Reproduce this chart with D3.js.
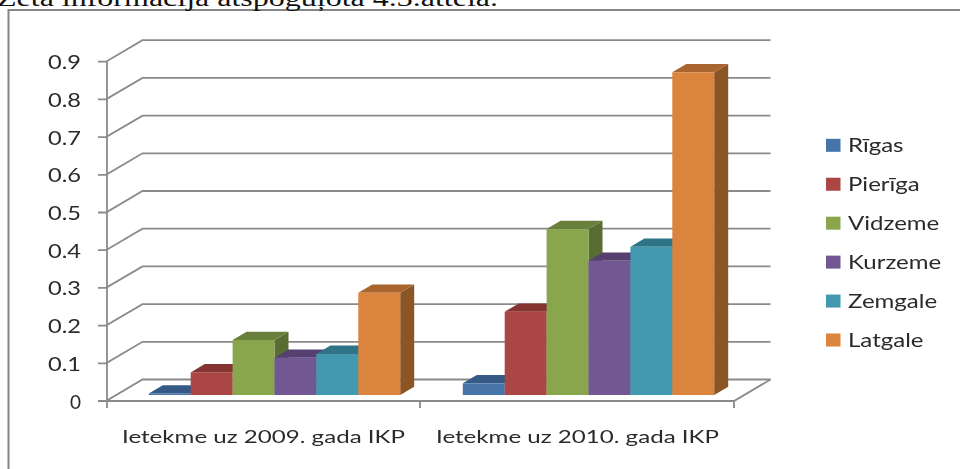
<!DOCTYPE html>
<html>
<head>
<meta charset="utf-8">
<script src="https://cdn.jsdelivr.net/npm/d3@7"></script>
<style>
  body { margin: 0; background: #fff; }
  svg { display: block; }
  text { font-family: Lato, "Open Sans", sans-serif; fill: #2b2b2b; }
</style>
</head>
<body>
<script>
const groups = ["Ietekme uz 2009. gada IKP", "Ietekme uz 2010. gada IKP"];
const regions = ["Rīgas", "Pierīga", "Vidzeme", "Kurzeme", "Zemgale", "Latgale"];
const values2009 = [0.004, 0.06, 0.146, 0.099, 0.109, 0.271];
const values2010 = [0.031, 0.221, 0.44, 0.356, 0.393, 0.856];
const yTicks = [0, 0.1, 0.2, 0.3, 0.4, 0.5, 0.6, 0.7, 0.8, 0.9];
const colors = ["#4674aa", "#aa4644", "#8aa64e", "#725893", "#4299b0", "#db843d"];
const topColors = ["#345a85", "#843531", "#68803a", "#573f6f", "#2f7386", "#a9652d"];
const sideColors = ["#2c4d73", "#6f2c29", "#586d31", "#49345e", "#276172", "#8c5527"];

const width = 960, height = 469;

const svg = d3.select("body").append("svg")
    .attr("width", width)
    .attr("height", height);

// image is a bit soft in the original
svg.append("filter").attr("id", "soft")
  .append("feGaussianBlur").attr("stdDeviation", 0.5);

const chart = svg.append("g").attr("filter", "url(#soft)");

// line of body text cut off above the chart frame
svg.append("text")
    .attr("x", -3).attr("y", 6)
    .attr("textLength", 501).attr("lengthAdjust", "spacingAndGlyphs")
    .style("font-family", "'Liberation Serif', serif")
    .style("font-size", "24px")
    .style("fill", "#111")
    .text("Zeta informācija atspoguļota 4.3.attēlā.");

// frame, runs off the picture right and bottom
chart.append("path")
    .attr("d", d3.line()([[8.5, height + 4], [8.5, 10], [width + 4, 10]]))
    .attr("fill", "none").attr("stroke", "#868686").attr("stroke-width", 2);

var x = d3.scaleBand().domain(groups).range([106, 734]);
var inner = d3.scaleBand().domain(regions)
    .range([0, x.bandwidth()])
    .paddingOuter(0.747);
var y = d3.scaleLinear().domain([0, 0.9]).range([401, 61.7]);

// 3d offsets: back wall of the chart, bar front plane, bar depth
const wall = { dx: 36.5, dy: -21.5 };
const front = { dx: 11.5, dy: -6 };
const depth = { dx: 14, dy: -8.3 };

const axisColor = "#8a8a8a";
const axisWidth = 1.8;

// gridlines on the wall and on the side
yTicks.forEach(function(t) {
  chart.append("path")
      .attr("d", d3.line()([
        [x.range()[0] - 8, y(t)],
        [x.range()[0], y(t)],
        [x.range()[0] + wall.dx, y(t) + wall.dy],
        [x.range()[1] + wall.dx, y(t) + wall.dy]
      ]))
      .attr("fill", "none").attr("stroke", axisColor).attr("stroke-width", axisWidth);
});

// axes
chart.append("path")
    .attr("d", d3.line()([[x.range()[0] + 1, y(0.9)], [x.range()[0] + 1, y(0) + 7]]))
    .attr("stroke", axisColor).attr("stroke-width", axisWidth);

chart.append("path")
    .attr("d", d3.line()([
      [x.range()[0], y(0)],
      [x.range()[1], y(0)],
      [x.range()[1] + wall.dx, y(0) + wall.dy]
    ]))
    .attr("fill", "none").attr("stroke", axisColor).attr("stroke-width", axisWidth);

chart.selectAll(".cat-tick")
    .data(groups)
    .enter().append("line")
    .attr("x1", function(d) { return x(d) + x.bandwidth(); })
    .attr("x2", function(d) { return x(d) + x.bandwidth(); })
    .attr("y1", y(0)).attr("y2", y(0) + 7)
    .attr("stroke", axisColor).attr("stroke-width", axisWidth);

// bars, drawn left to right so the next front face covers the side face
[values2009, values2010].forEach(function(vals, g) {
  vals.forEach(function(v, i) {
    var x0 = x(groups[g]) + inner(regions[i]) + front.dx;
    var x1 = x0 + inner.bandwidth();
    var yt = y(v) + front.dy;
    var yb = y(0) + front.dy;
    var bar = chart.append("g");
    bar.append("path") // side
        .attr("d", d3.line()([[x1, yt], [x1 + depth.dx, yt + depth.dy], [x1 + depth.dx, yb + depth.dy], [x1, yb]]) + "Z")
        .attr("fill", sideColors[i]);
    bar.append("path") // top
        .attr("d", d3.line()([[x0, yt], [x0 + depth.dx, yt + depth.dy], [x1 + depth.dx, yt + depth.dy], [x1, yt]]) + "Z")
        .attr("fill", topColors[i]);
    bar.append("rect") // front
        .attr("x", x0).attr("y", yt)
        .attr("width", x1 - x0).attr("height", yb - yt)
        .attr("fill", colors[i]);
  });
});

// labels
chart.selectAll(".y-label")
    .data(yTicks)
    .enter().append("text")
    .attr("x", 81).attr("y", function(d) { return y(d) + 7.5; })
    .attr("text-anchor", "end")
    .attr("textLength", function(d) { return d === 0 ? 11 : 33; })
    .attr("lengthAdjust", "spacingAndGlyphs")
    .style("font-size", "18.5px")
    .text(function(d) { return d; });

chart.selectAll(".x-label")
    .data(groups)
    .enter().append("text")
    .attr("x", function(d) { return x(d) + x.bandwidth() / 2 + 0.5; })
    .attr("y", 443)
    .attr("text-anchor", "middle")
    .attr("textLength", 283).attr("lengthAdjust", "spacingAndGlyphs")
    .style("font-size", "18px")
    .text(function(d) { return d; });

// legend
var legendY = d3.scalePoint().domain(regions).range([145.3, 340]);
var legend = chart.selectAll(".legend")
    .data(regions)
    .enter().append("g")
    .attr("transform", function(d) { return "translate(826," + legendY(d) + ")"; });

legend.append("rect")
    .attr("y", -6.5).attr("width", 14.5).attr("height", 13)
    .attr("fill", function(d, i) { return colors[i]; });

legend.append("text")
    .attr("transform", "translate(22,6.5) scale(1.3,1)")
    .style("font-size", "18.5px")
    .text(function(d) { return d; });
</script>
</body>
</html>
